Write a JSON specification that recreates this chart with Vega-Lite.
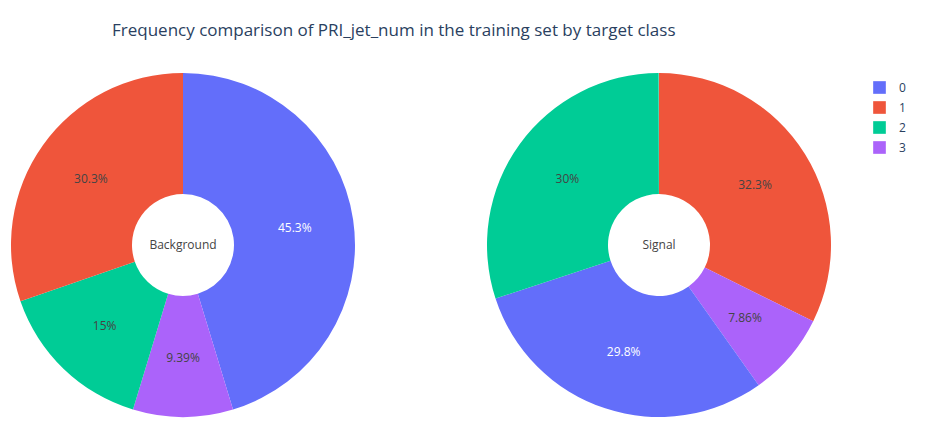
{
  "$schema": "https://vega.github.io/schema/vega-lite/v6.json",
  "width": 929,
  "height": 444,
  "padding": 0,
  "autosize": {"type": "none"},
  "background": "white",
  "config": {"view": {"stroke": null}, "font": "Open Sans"},
  "title": {
    "text": "Frequency comparison of PRI_jet_num in the training set by target class",
    "orient": "top",
    "anchor": "start",
    "frame": "group",
    "offset": -40,
    "dx": 112,
    "fontSize": 17,
    "fontWeight": "normal",
    "color": "#2a3f5f"
  },
  "data": {
    "values": [
      {"target": "Background", "jet": "0", "pct": 45.3, "ord": 1},
      {"target": "Background", "jet": "3", "pct": 9.39, "ord": 2},
      {"target": "Background", "jet": "2", "pct": 15, "ord": 3},
      {"target": "Background", "jet": "1", "pct": 30.3, "ord": 4},
      {"target": "Signal", "jet": "1", "pct": 32.3, "ord": 1},
      {"target": "Signal", "jet": "3", "pct": 7.86, "ord": 2},
      {"target": "Signal", "jet": "0", "pct": 29.8, "ord": 3},
      {"target": "Signal", "jet": "2", "pct": 30, "ord": 4}
    ]
  },
  "transform": [{"calculate": "format(datum.pct, '.3~r') + '%'", "as": "label"}],
  "encoding": {
    "x": {"field": "target", "type": "nominal", "scale": {"type": "point", "padding": 0, "domain": ["Background", "Signal"], "range": [183, 659]}, "axis": null},
    "y": {"value": 245}
  },
  "layer": [
    {
      "transform": [{"filter": "datum.target === 'Background'"}],
      "layer": [
        {
          "mark": {"type": "arc", "radius": 172, "radius2": 51},
          "encoding": {
            "theta": {"field": "pct", "type": "quantitative", "stack": true},
            "order": {"field": "ord"},
            "color": {"field": "jet", "type": "nominal", "title": null,
              "scale": {"domain": ["0", "1", "2", "3"], "range": ["#636efa", "#EF553B", "#00cc96", "#ab63fa"]},
              "legend": {"orient": "none", "legendX": 872, "legendY": 80, "symbolType": "square", "symbolSize": 160, "labelFontSize": 12, "labelColor": "#2a3f5f", "rowPadding": 6, "labelOffset": 12}}
          }
        },
        {
          "mark": {"type": "text", "radius": 113, "fontSize": 12},
          "encoding": {
            "theta": {"field": "pct", "type": "quantitative", "stack": true},
            "order": {"field": "ord"},
            "text": {"field": "label"},
            "color": {"condition": {"test": "datum.jet === '0'", "value": "white"}, "value": "#444"}
          }
        }
      ]
    },
    {
      "transform": [{"filter": "datum.target === 'Signal'"}],
      "layer": [
        {
          "mark": {"type": "arc", "radius": 172, "radius2": 51},
          "encoding": {
            "theta": {"field": "pct", "type": "quantitative", "stack": true},
            "order": {"field": "ord"},
            "color": {"field": "jet", "type": "nominal"}
          }
        },
        {
          "mark": {"type": "text", "radius": 113, "fontSize": 12},
          "encoding": {
            "theta": {"field": "pct", "type": "quantitative", "stack": true},
            "order": {"field": "ord"},
            "text": {"field": "label"},
            "color": {"condition": {"test": "datum.jet === '0'", "value": "white"}, "value": "#444"}
          }
        }
      ]
    },
    {
      "transform": [{"aggregate": [{"op": "count", "as": "n"}], "groupby": ["target"]}],
      "mark": {"type": "text", "fontSize": 12, "color": "#444"},
      "encoding": {"text": {"field": "target"}}
    }
  ]
}
